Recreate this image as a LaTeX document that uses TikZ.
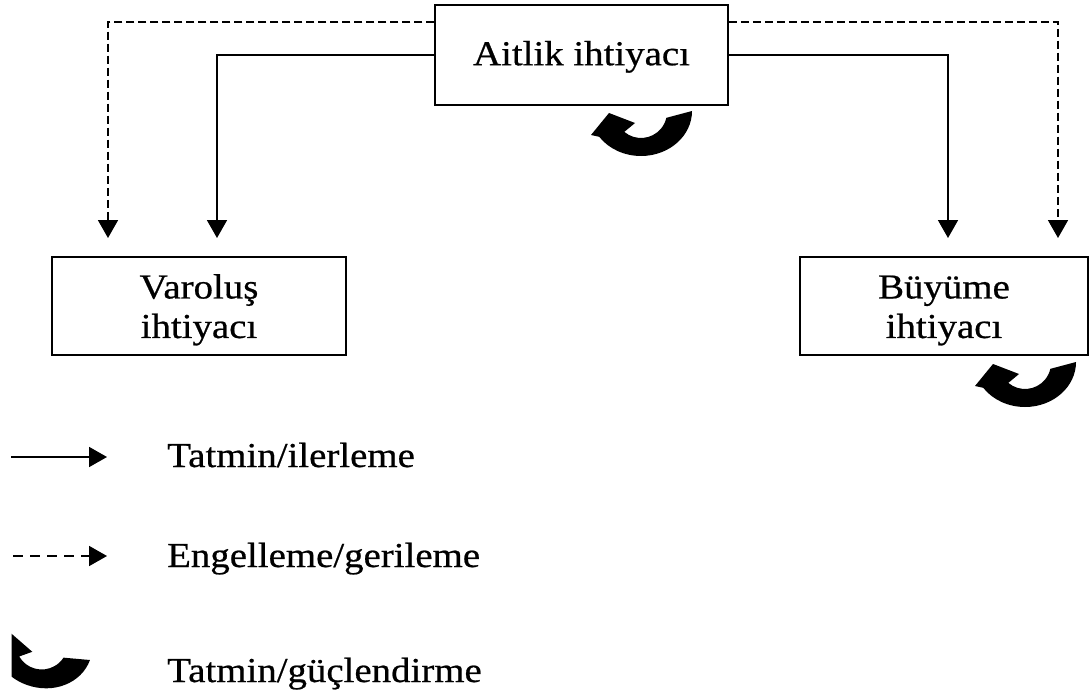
\documentclass[tikz,border=0pt]{standalone}
\usepackage{fontspec}
\setmainfont{Liberation Serif}[FakeStretch=1.11,FakeBold=0.6]
\usetikzlibrary{arrows.meta}

% thick U-turn arrow; local y runs downwards
\tikzset{
  turnarrow/.pic={
    \begin{scope}[yscale=-1]
    \fill (51,-1) arc[start angle=0,end angle=145,x radius=51,y radius=45]
      -- (-50,23) -- (-32,1) -- (-6,11) -- (-16.7,19.9)
      arc[start angle=130,end angle=13,radius=26] -- cycle;
    \end{scope}
  }
}

\begin{document}
\begin{tikzpicture}[x=1pt,y=1pt,yscale=-1,
  box/.style={draw,line width=1.5pt,inner sep=0pt,align=center,
    font=\fontsize{35}{39.5}\selectfont},
  conn/.style={line width=1.7pt,-{Triangle[length=18pt,width=20pt]}},
  brokenline/.style={dash pattern=on 8pt off 4pt},
  legendbroken/.style={dash pattern=on 10pt off 7pt},
  legendtext/.style={anchor=base west,inner sep=0pt,
    font=\fontsize{35}{40}\selectfont}]

\useasboundingbox (0,0) rectangle (1089,698);

% need boxes
\node[box,minimum width=293pt,minimum height=100pt] (belong) at (581.5,55)
  {\rule{0pt}{28pt}Aitlik ihtiyacı};
\node[box,minimum width=294pt,minimum height=98pt] (exist) at (199,306)
  {\rule{0pt}{32pt}Varoluş\\ihtiyacı};
\node[box,minimum width=288pt,minimum height=98pt] (grow) at (944,306)
  {\rule{0pt}{32pt}Büyüme\\ihtiyacı};

% arrow ends above the lower boxes
\coordinate (exD) at (108,238);
\coordinate (exS) at (217,238);
\coordinate (grS) at (948,238);
\coordinate (grD) at (1058,238);

\draw[conn,brokenline] (belong.west |- 0,22) -| (exD);
\draw[conn] (belong.west |- 0,55) -| (exS);
\draw[conn] (belong.east |- 0,55) -| (grS);
\draw[conn,brokenline] (belong.east |- 0,22) -| (grD);

% satisfaction / strengthening loops
\pic (turnA) at (641,112) {turnarrow};
\pic (turnB) at (1025,363) {turnarrow};

% legend
\coordinate (l1a) at (11,457);
\coordinate (l1b) at (107,457);
\coordinate (l2a) at (13,556);
\coordinate (l2b) at (107,556);
\draw[conn] (l1a) -- (l1b);
\draw[conn,legendbroken] (l2a) -- (l2b);
\begin{scope}
  \clip (11.5,600) rectangle (120,698);
  \pic[rotate=-20] (turnC) at (41.7,643.5) {turnarrow};
\end{scope}

\node[legendtext] (t1) at (167,467) {Tatmin/ilerleme};
\node[legendtext] (t2) at (167,567) {Engelleme/gerileme};
\node[legendtext] (t3) at (167,682) {Tatmin/güçlendirme};

\end{tikzpicture}
\end{document}
